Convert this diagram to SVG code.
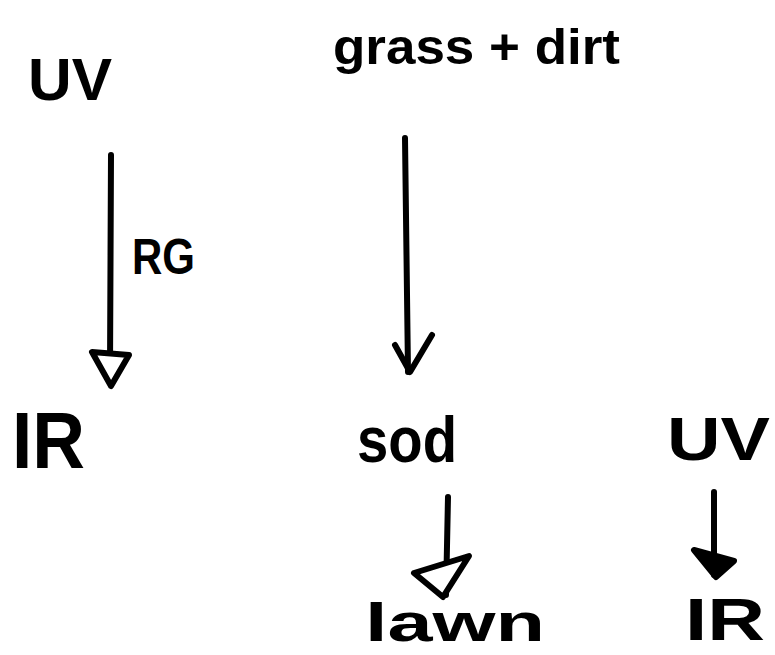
<svg xmlns="http://www.w3.org/2000/svg" width="775" height="655" viewBox="0 0 775 655">
<style>
.t{font-family:"Liberation Sans",Arial,sans-serif;fill:#000;font-weight:bold;}
.ln{stroke:#000;stroke-width:6;fill:none;stroke-linecap:round;stroke-linejoin:round;}
.hd{stroke:#000;stroke-width:6;fill:#fff;stroke-linejoin:round;}
.hf{stroke:#000;stroke-width:6;fill:#000;stroke-linejoin:round;}
</style>
<rect width="775" height="655" fill="#fff"/>
<g id="connectors">
<g id="uv-ir">
<path class="ln" d="M111,155 L110,370"/>
<path class="hd" d="M92,352 L129,355 L111,386 Z"/>
<text class="t" x="132" y="274" font-size="50" textLength="63" lengthAdjust="spacingAndGlyphs">RG</text>
</g>
<g id="grass-sod">
<path class="ln" d="M405,138 L408,372"/>
<path class="ln" d="M395,345 L410,372 L432,335"/>
</g>
<g id="sod-lawn">
<path class="ln" d="M448,497 L446,595"/>
<path class="hd" d="M414,573 L469,556 L443,597 Z"/>
</g>
<g id="uv2-ir2">
<path class="ln" d="M714,492 L714,575"/>
<path class="hf" d="M694,550 L734,561 L716,577 Z"/>
</g>
</g>
<g id="node-uv1"><text class="t" x="28" y="100" font-size="60" textLength="84" lengthAdjust="spacingAndGlyphs">UV</text></g>
<g id="node-grass"><text class="t" x="333" y="64" font-size="50" textLength="287" lengthAdjust="spacingAndGlyphs">grass + dirt</text></g>
<g id="node-ir1"><text class="t" x="12" y="468" font-size="80" textLength="73" lengthAdjust="spacingAndGlyphs">IR</text></g>
<g id="node-sod"><text class="t" x="357" y="462" font-size="64" textLength="100" lengthAdjust="spacingAndGlyphs">sod</text></g>
<g id="node-uv2"><text class="t" x="667" y="460" font-size="62" textLength="103" lengthAdjust="spacingAndGlyphs">UV</text></g>
<g id="node-lawn"><text class="t" x="365" y="641" font-size="54" textLength="180" lengthAdjust="spacingAndGlyphs">lawn</text></g>
<g id="node-ir2"><text class="t" x="685" y="640" font-size="60" textLength="80" lengthAdjust="spacingAndGlyphs">IR</text></g>
</svg>
